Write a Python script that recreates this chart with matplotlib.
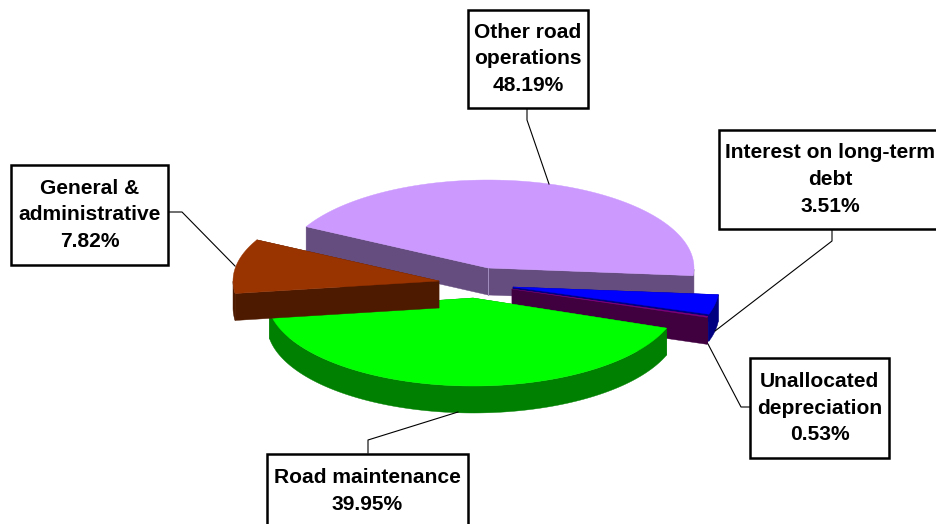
import numpy as np
import matplotlib
matplotlib.use("Agg")
import matplotlib.pyplot as plt
from matplotlib.patches import Rectangle

# expense shares, clockwise from the "Other road operations" slice
names = ["Other road\noperations", "Interest on long-term\ndebt", "Unallocated\ndepreciation",
         "Road maintenance", "General &\nadministrative"]
shares = [48.19, 3.51, 0.53, 39.95, 7.82]

top_colors = ["#CC99FF", "#0000FF", "#800080", "#00FF00", "#993300"]
side_colors = ["#664D80", "#000080", "#400040", "#008000", "#4D1A00"]

# where each exploded slice sits, and how the fake 3D view bends its angles
apex_x = [488, 513, 512, 473, 439]
apex_y = [268, 287, 289, 298, 281]
spin = [0, -16.5, -16, -16, -8]
stretch = [0.905, 1.03, 0.35, 1.05, 1.28]
start_angle = 298
rx, ry = 206, 88
depth = 27

# label boxes: left, top, right, bottom
boxes = [(468, 10, 588, 108), (719, 130, 960, 229), (750, 358, 889, 458),
         (267, 454, 468, 528), (11, 165, 168, 265)]
leaders = [([527, 527, 549], [108, 120, 184]),
           ([832, 832, 715], [229, 241, 331]),
           ([751, 741, 708], [407, 407, 344]),
           ([368, 368, 458], [453, 440, 412]),
           ([168, 182, 235], [212, 212, 266])]

plt.rcParams['font.family'] = ['Liberation Sans', 'DejaVu Sans']

fig = plt.figure(figsize=(9.36, 5.24), dpi=100)
ax = fig.add_axes([0, 0, 1, 1])
ax.set_xlim(0, 936)
ax.set_ylim(524, 0)
ax.axis("off")


def rim(i, t):
    t = np.radians(t)
    return apex_x[i] + rx * np.sin(t), apex_y[i] - ry * np.cos(t)


def draw_slice(i, t0, t1):
    t = np.linspace(t0, t1, 150)
    x, y = rim(i, t)
    ax_, ay_ = apex_x[i], apex_y[i]

    # cut faces first, then the outer wall, then the top
    for ex, ey in [(x[0], y[0]), (x[-1], y[-1])]:
        ax.fill([ax_, ex, ex, ax_], [ay_, ey, ey + depth, ay_ + depth],
                color=side_colors[i], lw=0.3, zorder=2 + i * 0.01)
    front = np.cos(np.radians(t)) < 0
    if front.any():
        ax.fill(np.r_[x[front], x[front][::-1]], np.r_[y[front], y[front][::-1] + depth],
                color=side_colors[i], lw=0.3, zorder=2 + i * 0.01)
    ax.fill(np.r_[ax_, x], np.r_[ay_, y], color=top_colors[i], lw=0.3, zorder=2 + i * 0.01)


cum = 0
order = [0, 1, 2, 4, 3]
starts = {}
for i, v in enumerate(shares):
    starts[i] = start_angle + cum * 3.6 + spin[i]
    cum += v

for i in order:
    draw_slice(i, starts[i], starts[i] + shares[i] * 3.6 * stretch[i])

# pale edge where the two cut faces of the big slice meet
ax.plot([apex_x[0], apex_x[0]], [apex_y[0], apex_y[0] + depth], color="#A38FC0", lw=0.7, zorder=2.005)

for i in range(len(shares)):
    ax.plot(leaders[i][0], leaders[i][1], color="black", lw=0.8, zorder=3)
    left, top, right, bottom = boxes[i]
    ax.add_patch(Rectangle((left, top), right - left, bottom - top, fc="white", ec="black",
                           lw=1.8, zorder=4))
    label = f"{names[i]}\n{shares[i]:.2f}%"
    cx = (left + right) / 2 if i != 1 else 830
    ax.text(cx, (top + bottom) / 2, label, ha="center", va="center", fontsize=15.1,
            fontweight="bold", linespacing=1.5, zorder=5)

fig.savefig("out.png", dpi=100)
